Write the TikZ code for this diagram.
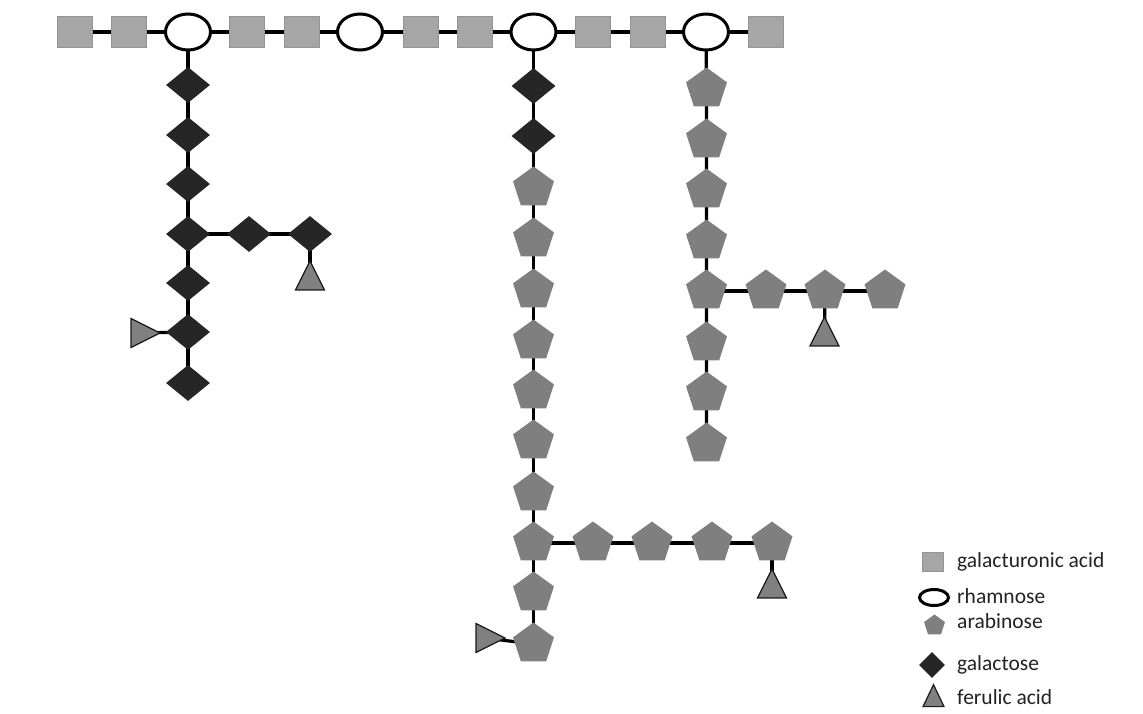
\documentclass[tikz,border=0pt]{standalone}
\usepackage{fontspec}
\setmainfont{Carlito}
\usetikzlibrary{shapes.geometric,backgrounds}

\definecolor{galAcol}{HTML}{A6A6A6}
\definecolor{galAedge}{HTML}{949494}
\definecolor{araCol}{HTML}{7F7F7F}
\definecolor{galCol}{HTML}{262626}
\definecolor{ferCol}{HTML}{808080}
\definecolor{ferEdge}{HTML}{1A1A1A}
\definecolor{txtCol}{HTML}{222222}

\tikzset{
  link/.style={line width=3.2pt, black},
  galA/.style={rectangle, fill=galAcol, draw=galAedge, line width=0.8pt,
    minimum width=35pt, minimum height=31pt, inner sep=0pt},
  rha/.style={ellipse, draw=black, fill=white, line width=3pt,
    minimum width=45pt, minimum height=36pt, inner sep=0pt},
  ara/.style={regular polygon, regular polygon sides=5, fill=araCol,
    minimum size=43pt, inner sep=0pt},
  gal/.style={diamond, fill=galCol, minimum width=44pt, minimum height=36pt,
    inner sep=0pt},
  fer/.style={isosceles triangle, isosceles triangle stretches, fill=ferCol,
    draw=ferEdge, line width=1.2pt, inner sep=0pt,
    minimum width=29pt, minimum height=29pt},
  ferup/.style={fer, shape border rotate=90},
  legtxt/.style={anchor=base west, inner sep=0pt, text=txtCol,
    font=\fontsize{21.5}{24}\selectfont},
}

\begin{document}
\begin{tikzpicture}[x=1pt, y=-1pt]
  \useasboundingbox (0,0) rectangle (1143,713);

  % backbone: galacturonic acid and rhamnose
  \node[galA] (g1) at (74.5,32) {};
  \node[galA] (g2) at (128.5,32) {};
  \node[rha]  (r1) at (188,32) {};
  \node[galA] (g3) at (246.5,32) {};
  \node[galA] (g4) at (301.5,32) {};
  \node[rha]  (r2) at (360,32) {};
  \node[galA] (g5) at (420.5,32) {};
  \node[galA] (g6) at (475,32) {};
  \node[rha]  (r3) at (533.5,32) {};
  \node[galA] (g7) at (593,32) {};
  \node[galA] (g8) at (648,32) {};
  \node[rha]  (r4) at (706,32) {};
  \node[galA] (g9) at (765.5,32) {};

  % galactan side chain
  \node[gal] (a1) at (188,85) {};
  \node[gal] (a2) at (188,135) {};
  \node[gal] (a3) at (188,184) {};
  \node[gal] (a4) at (188,234) {};
  \node[gal] (a5) at (188,283) {};
  \node[gal] (a6) at (188,332) {};
  \node[gal] (a7) at (188,383) {};
  \node[gal] (a8) at (249,234) {};
  \node[gal] (a9) at (310,234) {};
  \node[ferup] (af1) at (310,281) {};
  \node[fer] (af2) at (140,333) {};

  % arabinogalactan side chain
  \node[gal] (b1) at (533.5,86) {};
  \node[gal] (b2) at (533.5,136) {};
  \node[ara] (b3)  at (533.5,188) {};
  \node[ara] (b4)  at (533.5,239) {};
  \node[ara] (b5)  at (533.5,290) {};
  \node[ara] (b6)  at (533.5,341) {};
  \node[ara] (b7)  at (533.5,391) {};
  \node[ara] (b8)  at (533.5,441) {};
  \node[ara] (b9)  at (533.5,493) {};
  \node[ara] (b10) at (533.5,543) {};
  \node[ara] (b11) at (533.5,593) {};
  \node[ara] (b12) at (533.5,644) {};
  \node[ara] (b13) at (593,543) {};
  \node[ara] (b14) at (652,543) {};
  \node[ara] (b15) at (712,543) {};
  \node[ara] (b16) at (772,543) {};
  \node[ferup] (bf1) at (772,589) {};
  \node[fer] (bf2) at (485,638) {};

  % arabinan side chain
  \node[ara] (c1) at (706.5,89) {};
  \node[ara] (c2) at (706.5,140) {};
  \node[ara] (c3) at (706.5,190) {};
  \node[ara] (c4) at (706.5,241) {};
  \node[ara] (c5) at (706.5,291) {};
  \node[ara] (c6) at (706.5,343) {};
  \node[ara] (c7) at (706.5,393) {};
  \node[ara] (c8) at (706.5,444) {};
  \node[ara] (c9)  at (766,291) {};
  \node[ara] (c10) at (825,291) {};
  \node[ara] (c11) at (885,291) {};
  \node[ferup] (cf1) at (824.5,337) {};

  % glycosidic links
  \begin{scope}[on background layer]
    \draw[link] (g1.center) -- (g2.center) -- (r1.center) -- (g3.center)
      -- (g4.center) -- (r2.center) -- (g5.center) -- (g6.center)
      -- (r3.center) -- (g7.center) -- (g8.center) -- (r4.center)
      -- (g9.center);
    \draw[link] (r1.center) -- (a1.center) -- (a2.center) -- (a3.center)
      -- (a4.center) -- (a5.center) -- (a6.center) -- (a7.center);
    \draw[link] (a4.center) -- (a8.center) -- (a9.center) -- (af1.center);
    \draw[link] (a6.center) -- (af2.center);
    \draw[link] (r3.center) -- (b1.center) -- (b2.center) -- (b3.center)
      -- (b4.center) -- (b5.center) -- (b6.center) -- (b7.center)
      -- (b8.center) -- (b9.center) -- (b10.center) -- (b11.center)
      -- (b12.center);
    \draw[link] (b10.center) -- (b13.center) -- (b14.center) -- (b15.center)
      -- (b16.center) -- (bf1.center);
    \draw[link] (b12.center) -- (bf2.center);
    \draw[link] (r4.center) -- (c1.center) -- (c2.center) -- (c3.center)
      -- (c4.center) -- (c5.center) -- (c6.center) -- (c7.center)
      -- (c8.center);
    \draw[link] (c5.center) -- (c9.center) -- (c10.center) -- (c11.center);
    \draw[link] (c10.center) -- (cf1.center);
  \end{scope}

  % legend
  \node[galA, minimum width=21pt, minimum height=19pt] (k1) at (932.5,561.5) {};
  \node[rha, minimum width=29pt, minimum height=16pt] (k2) at (934,597.5) {};
  \node[ara, minimum size=22pt] (k3) at (934.5,625.5) {};
  \node[gal, minimum width=26pt, minimum height=26pt] (k4) at (932,665) {};
  \node[ferup, minimum width=21pt, minimum height=22pt] (k5) at (933.5,700) {};
  \node[legtxt] (l1) at (957,567.5) {galacturonic acid};
  \node[legtxt] (l2) at (957,603) {rhamnose};
  \node[legtxt] (l3) at (957,628) {arabinose};
  \node[legtxt] (l4) at (957,670) {galactose};
  \node[legtxt] (l5) at (957,704) {ferulic acid};
\end{tikzpicture}
\end{document}
